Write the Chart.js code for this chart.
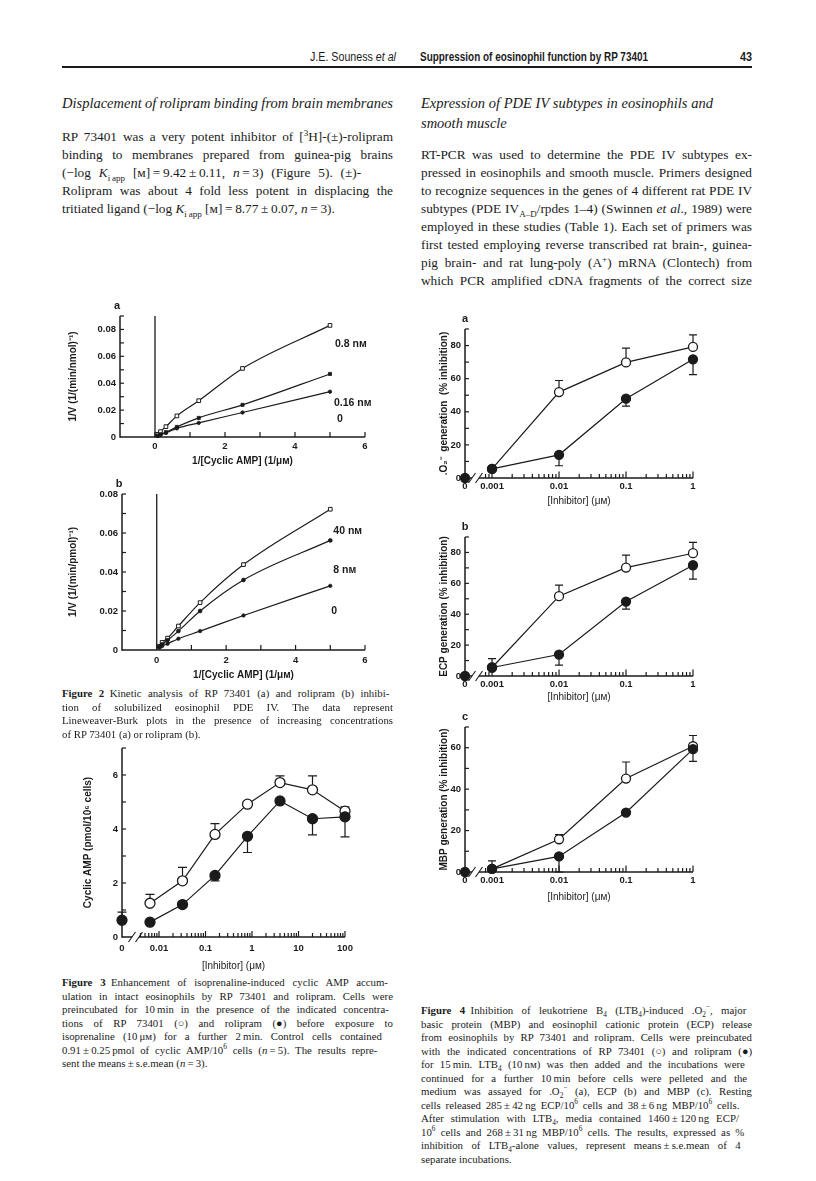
<!DOCTYPE html>
<html><head><meta charset="utf-8">
<script src="https://cdn.jsdelivr.net/npm/chart.js@4.4.1/dist/chart.umd.min.js"></script>
<style>
html,body{margin:0;padding:0;background:#fff}
body{width:816px;height:1181px;position:relative;overflow:hidden;color:#1b1b1b}
.ln{position:absolute;white-space:nowrap;font-family:'Liberation Serif','Times New Roman',serif;line-height:16px;height:16px}
.bd{font-size:13.3px}
.hd{font-size:14.5px;font-style:italic}
.cp{font-size:10.8px}
.hs{font-family:'Liberation Sans',Arial,sans-serif;font-size:12.5px}
sub,sup{font-size:68%;line-height:0}
#rule{position:absolute;left:62px;top:66px;width:690px;height:2px;background:#1b1b1b}
canvas{position:absolute}
</style></head><body>
<div id="rule"></div>
<script>
const INK = '#1b1b1b';

// ---------------- Figure 2 (Lineweaver-Burk) ----------------
const fig2InvCAMP = [0.078, 0.156, 0.3125, 0.625, 1.25, 2.5, 5];
const fig2aControl = [0.0008, 0.0015, 0.003, 0.0064, 0.0105, 0.0182, 0.0337];
const fig2aRP016 = [0.001, 0.002, 0.0036, 0.0075, 0.0142, 0.0239, 0.0469];
const fig2aRP08 = [0.002, 0.004, 0.0077, 0.0157, 0.027, 0.051, 0.083];
const fig2aLabels = ['0', '0.16 nᴍ', '0.8 nᴍ'];
const fig2bControl = [0.0013, 0.002, 0.0032, 0.0058, 0.0097, 0.0177, 0.0329];
const fig2bRoli8 = [0.0015, 0.0029, 0.005, 0.0097, 0.02, 0.0359, 0.0562];
const fig2bRoli40 = [0.0019, 0.0039, 0.0061, 0.0123, 0.0243, 0.0438, 0.0722];
const fig2bLabels = ['0', '8 nᴍ', '40 nᴍ'];
const fig2XTickValues = [0, 1, 2, 3, 4, 5, 6];
const fig2XTickLabels = ['0', '', '2', '', '4', '', '6'];
const fig2aYTickValues = [0, 0.01, 0.02, 0.03, 0.04, 0.05, 0.06, 0.07, 0.08, 0.09];
const fig2aYTickLabels = ['0', '', '0.02', '', '0.04', '', '0.06', '', '0.08', ''];
const fig2bYTickValues = [0, 0.01, 0.02, 0.03, 0.04, 0.05, 0.06, 0.07, 0.08];
const fig2bYTickLabels = ['0', '', '0.02', '', '0.04', '', '0.06', '', '0.08'];

// ---------------- Figure 3 (cyclic AMP) ----------------
const fig3Conc = [0.0064, 0.032, 0.16, 0.8, 4, 20, 100];
const fig3RP = [1.25, 2.08, 3.8, 4.92, 5.72, 5.45, 4.66];
const fig3RPErr = [0.33, 0.5, 0.4, 0, 0.25, 0.52, 0.16];
const fig3Roli = [0.55, 1.2, 2.28, 3.73, 5.04, 4.38, 4.45];
const fig3RoliErr = [0, 0.08, 0.2, 0.6, 0, 0.6, 0.74];
const fig3Control = [0.62];
const fig3ControlErr = [0.3];
const fig3Decades = [0.01, 0.1, 1, 10, 100];
const fig3DecadeLabels = ['0.01', '0.1', '1', '10', '100'];
const fig3YTickValues = [0, 1, 2, 3, 4, 5, 6, 7];
const fig3YTickLabels = ['0', '', '2', '', '4', '', '6', ''];

// ---------------- Figure 4 (% inhibition) ----------------
const fig4Conc = [0.001, 0.01, 0.1, 1];
const fig4aRP = [5.5, 51.9, 69.8, 79.2];
const fig4aRPErr = [0, 7, 8.7, 7.2];
const fig4aRoli = [5.5, 14, 47.9, 71.7];
const fig4aRoliErr = [0, 6.6, 4.5, 9.2];
const fig4bRP = [5.5, 51.7, 70.2, 79.5];
const fig4bRPErr = [5.8, 7.2, 8, 7];
const fig4bRoli = [5.5, 13.9, 48.2, 71.7];
const fig4bRoliErr = [0, 6.8, 4.9, 9];
const fig4cRP = [1.5, 15.8, 45.1, 60.7];
const fig4cRPErr = [3.9, 2.2, 8, 5.2];
const fig4cRoli = [1.5, 7.5, 28.7, 59.3];
const fig4cRoliErr = [0, 7.5, 0.8, 5.9];
const fig4Control = [0];
const fig4Decades = [0.001, 0.01, 0.1, 1];
const fig4DecadeLabels = ['0.001', '0.01', '0.1', '1'];
const fig4abYTickValues = [0, 10, 20, 30, 40, 50, 60, 70, 80, 90];
const fig4abYTickLabels = ['0', '', '20', '', '40', '', '60', '', '80', ''];
const fig4cYTickValues = [0, 10, 20, 30, 40, 50, 60, 70];
const fig4cYTickLabels = ['0', '', '20', '', '40', '', '60', ''];

// axis "0" positions on the broken log axes (value placed at the y axis)
const fig3ZeroPos = 0.0016;
const fig4ZeroPos = 0.000395;

// ---------------- helpers ----------------
function linTicks(values, labels) {
  return values.map((v, i) => ({v, label: labels[i], kind: labels[i] ? 'major' : 'minor'}));
}
function logTicks(zeroPos, firstMinor, decades, labels) {
  const out = [{v: zeroPos, label: '0', kind: 'zero'}];
  for (let m = firstMinor; m < 10; m++) out.push({v: m * decades[0] / 10, label: '', kind: 'minor'});
  decades.forEach((d, i) => {
    out.push({v: d, label: labels[i], kind: 'major'});
    if (i < decades.length - 1) for (let m = 2; m < 10; m++) out.push({v: m * d, label: '', kind: 'minor'});
  });
  return out;
}
function pts(xs, ys) { return xs.map((x, i) => ({x, y: ys[i]})); }

Chart.defaults.font.family = "'Liberation Sans', Arial, sans-serif";
Chart.defaults.color = INK;

const paperPlugin = {
  id: 'paper',
  beforeDatasetsDraw(chart, args, o) {
    const ctx = chart.ctx, a = chart.chartArea, xs = chart.scales.x, ys = chart.scales.y;
    ctx.save();
    ctx.strokeStyle = INK; ctx.fillStyle = INK;
    ctx.lineWidth = 1.5;
    ctx.beginPath(); ctx.moveTo(a.left, a.top); ctx.lineTo(a.left, a.bottom + 0.75); ctx.stroke();
    ctx.beginPath();
    if (o.brk) {
      ctx.moveTo(a.left, a.bottom); ctx.lineTo(a.left + o.brk[0], a.bottom);
      ctx.moveTo(a.left + o.brk[1], a.bottom); ctx.lineTo(a.right, a.bottom);
    } else { ctx.moveTo(a.left, a.bottom); ctx.lineTo(a.right, a.bottom); }
    ctx.stroke();
    if (o.brk) {
      ctx.lineWidth = 1.1;
      o.brk.forEach(d => { const p = a.left + d; ctx.beginPath(); ctx.moveTo(p - 3.5, a.bottom + 5); ctx.lineTo(p + 3.5, a.bottom - 5); ctx.stroke(); });
    }
    ctx.lineWidth = 1.2;
    o.xTicks.forEach(t => {
      if (t.kind === 'zero') return;
      const p = xs.getPixelForValue(t.v), L = t.kind === 'major' ? o.xMajor : o.xMinor;
      ctx.beginPath(); ctx.moveTo(p, a.bottom); ctx.lineTo(p, a.bottom - L); ctx.stroke();
    });
    o.yTicks.forEach(t => {
      if (t.v === 0) return;
      const p = ys.getPixelForValue(t.v);
      ctx.beginPath(); ctx.moveTo(a.left, p); ctx.lineTo(a.left + o.yLen, p); ctx.stroke();
    });
    if (o.vline) {
      const p = xs.getPixelForValue(0);
      ctx.lineWidth = 1.3; ctx.beginPath(); ctx.moveTo(p, a.bottom); ctx.lineTo(p, a.top); ctx.stroke();
    }
    (o.errors || []).forEach(e => {
      const ds = chart.data.datasets[e.ds];
      ctx.lineWidth = 1.2;
      ds.data.forEach((pt, i) => {
        const err = e.values[i]; if (!err) return;
        const x = xs.getPixelForValue(pt.x), y0 = ys.getPixelForValue(pt.y), y1 = ys.getPixelForValue(pt.y + e.dir * err);
        ctx.beginPath(); ctx.moveTo(x, y0); ctx.lineTo(x, y1); ctx.moveTo(x - o.cap, y1); ctx.lineTo(x + o.cap, y1); ctx.stroke();
      });
    });
    ctx.restore();
  },
  afterDatasetsDraw(chart, args, o) {
    const ctx = chart.ctx, a = chart.chartArea, xs = chart.scales.x, ys = chart.scales.y;
    ctx.save(); ctx.fillStyle = INK;
    if (o.letter) {
      ctx.font = "bold 11px 'Liberation Sans', Arial, sans-serif";
      ctx.textAlign = 'center'; ctx.textBaseline = 'middle';
      ctx.fillText(o.letter, a.left + (o.letterDx || 0), a.top - 10);
    }
    (o.seriesLabels || []).forEach(l => {
      const ds = chart.data.datasets[l.ds]; const last = ds.data[ds.data.length - 1];
      ctx.font = "bold 10.5px 'Liberation Sans', Arial, sans-serif";
      ctx.textAlign = 'left'; ctx.textBaseline = 'middle';
      ctx.fillText(l.text, xs.getPixelForValue(last.x) + l.dx, ys.getPixelForValue(last.y) + l.dy);
    });
    ctx.restore();
  }
};

function makePanel(box, o) {
  const LY = o.ly, BX = o.bx, T = 20, R = o.r || 26;
  const W = LY + box.r - box.l + R, H = T + box.b - box.t + BX;
  const cv = document.createElement('canvas');
  cv.width = W; cv.height = H;
  cv.style.left = (box.l - LY) + 'px'; cv.style.top = (box.t - T) + 'px';
  cv.style.width = W + 'px'; cv.style.height = H + 'px';
  document.body.appendChild(cv);
  const tickFont = {size: 9.5, weight: 'bold'};
  return new Chart(cv, {
    type: 'line',
    data: {datasets: o.datasets},
    options: {
      responsive: false, animation: false, devicePixelRatio: 1,
      layout: {padding: {left: 0, top: T, right: R, bottom: 0}, autoPadding: false},
      plugins: {legend: {display: false}, tooltip: {enabled: false},
        paper: {xTicks: o.xTicks, yTicks: o.yTicks, brk: o.brk, vline: o.vline, letter: o.letter, letterDx: o.letterDx,
          seriesLabels: o.seriesLabels, errors: o.errors, cap: o.cap || 4,
          xMajor: o.xMajor || 5, xMinor: o.xMinor || 3.5, yLen: o.yLen || 4}},
      scales: {
        x: {type: o.xType, min: o.xMin, max: o.xMax, bounds: 'data',
          grid: {display: false, drawTicks: false}, border: {display: false},
          afterBuildTicks: s => { s.ticks = o.xTicks.map(t => ({value: t.v})); },
          afterFit: s => { s.height = BX; },
          ticks: {autoSkip: false, maxRotation: 0, minRotation: 0, padding: o.xPad, font: tickFont,
            callback: (v, i) => o.xTicks[i] ? o.xTicks[i].label : ''},
          title: {display: true, text: o.xTitle, padding: 0, font: {size: 10, weight: o.xTitleWeight || 'normal'}}},
        y: {type: 'linear', min: o.yMin, max: o.yMax, bounds: 'data',
          grid: {display: false, drawTicks: false}, border: {display: false},
          afterBuildTicks: s => { s.ticks = o.yTicks.map(t => ({value: t.v})); },
          afterFit: s => { s.width = LY; },
          ticks: {autoSkip: false, padding: 4, font: tickFont,
            callback: (v, i) => o.yTicks[i] ? o.yTicks[i].label : ''},
          title: {display: true, text: o.yTitle, padding: 0, font: {size: 10, weight: 'bold'}}}
      }
    },
    plugins: [paperPlugin]
  });
}

function lineDs(data, style, extra) {
  return Object.assign({data, borderColor: INK, borderWidth: 1.2, fill: false, clip: false,
    pointBorderColor: INK, pointBorderWidth: 1.3,
    pointBackgroundColor: style === 'open' ? '#fff' : INK}, extra || {});
}

// ---- Figure 2a ----
const lbStyle = {cubicInterpolationMode: 'monotone'};
makePanel({l: 120, r: 365, t: 316, b: 437}, {
  ly: 53, bx: 30, r: 34, xPad: 3.3, xType: 'linear', xMin: -1, xMax: 6, yMin: 0, yMax: 0.09,
  xTicks: linTicks(fig2XTickValues, fig2XTickLabels).map(t => Object.assign(t, {kind: 'major'})),
  yTicks: linTicks(fig2aYTickValues, fig2aYTickLabels), vline: true, letter: 'a', letterDx: -3,
  xTitle: '1/[Cyclic AMP] (1/μᴍ)', xTitleWeight: 'bold', yTitle: '1/V (1/(min/nmol)⁻¹)',
  datasets: [
    lineDs(pts(fig2InvCAMP, fig2aControl), 'filled', Object.assign({pointRadius: 1.7, pointBorderWidth: 0.8}, lbStyle)),
    lineDs(pts(fig2InvCAMP, fig2aRP016), 'filled', Object.assign({pointRadius: 2.2, pointStyle: 'rect', pointBorderWidth: 0.8}, lbStyle)),
    lineDs(pts(fig2InvCAMP, fig2aRP08), 'open', Object.assign({pointRadius: 2.6, pointStyle: 'rect', pointBorderWidth: 1}, lbStyle))
  ],
  seriesLabels: [{ds: 0, text: fig2aLabels[0], dx: 7, dy: 27}, {ds: 1, text: fig2aLabels[1], dx: 4, dy: 29}, {ds: 2, text: fig2aLabels[2], dx: 5, dy: 19}]
});

// ---- Figure 2b ----
makePanel({l: 122, r: 365, t: 494, b: 650}, {
  ly: 55, bx: 31, r: 34, xPad: 4.3, xType: 'linear', xMin: -1, xMax: 6, yMin: 0, yMax: 0.08,
  xTicks: linTicks(fig2XTickValues, fig2XTickLabels).map(t => Object.assign(t, {kind: 'major'})),
  yTicks: linTicks(fig2bYTickValues, fig2bYTickLabels), vline: true, letter: 'b', letterDx: -3,
  xTitle: '1/[Cyclic AMP] (1/μᴍ)', xTitleWeight: 'bold', yTitle: '1/V (1/(min/pmol)⁻¹)',
  datasets: [
    lineDs(pts(fig2InvCAMP, fig2bControl), 'filled', Object.assign({pointRadius: 1.7, pointBorderWidth: 0.8}, lbStyle)),
    lineDs(pts(fig2InvCAMP, fig2bRoli8), 'filled', Object.assign({pointRadius: 1.9, pointBorderWidth: 0.8}, lbStyle)),
    lineDs(pts(fig2InvCAMP, fig2bRoli40), 'open', Object.assign({pointRadius: 2.6, pointStyle: 'rect', pointBorderWidth: 1}, lbStyle))
  ],
  seriesLabels: [{ds: 0, text: fig2bLabels[0], dx: 1, dy: 25}, {ds: 1, text: fig2bLabels[1], dx: 3, dy: 30}, {ds: 2, text: fig2bLabels[2], dx: 3, dy: 22}]
});

// ---- Figure 3 ----
makePanel({l: 122, r: 345, t: 748, b: 937}, {
  ly: 40, bx: 35, r: 26, xPad: 5.3, xType: 'logarithmic', xMin: fig3ZeroPos, xMax: 100, yMin: 0, yMax: 7,
  xTicks: logTicks(fig3ZeroPos, 4, fig3Decades, fig3DecadeLabels), xMajor: 6, xMinor: 4,
  yTicks: linTicks(fig3YTickValues, fig3YTickLabels), brk: [10, 17], cap: 4.5,
  xTitle: '[Inhibitor] (μᴍ)', yTitle: 'Cyclic AMP (pmol/10⁶ cells)',
  datasets: [
    lineDs(pts(fig3Conc, fig3Roli), 'filled', {pointRadius: 5}),
    lineDs(pts(fig3Conc, fig3RP), 'open', {pointRadius: 5}),
    lineDs([{x: fig3ZeroPos, y: fig3Control[0]}], 'filled', {pointRadius: 5, showLine: false})
  ],
  errors: [{ds: 0, values: fig3RoliErr, dir: -1}, {ds: 1, values: fig3RPErr, dir: 1}, {ds: 2, values: fig3ControlErr, dir: 1}]
});

// ---- Figure 4 a, b, c ----
function fig4Panel(box, letter, yTitle, rp, rpErr, roli, roliErr, yMax, yVals, yLabels) {
  makePanel(box, {
    ly: 27, bx: box.bx, r: 26, xPad: 3, xType: 'logarithmic', xMin: fig4ZeroPos, xMax: 1, yMin: 0, yMax,
    xTicks: logTicks(fig4ZeroPos, 8, fig4Decades, fig4DecadeLabels), xMajor: 6.5, xMinor: 4,
    yTicks: linTicks(yVals, yLabels), brk: [7, 14], letter, cap: 4,
    xTitle: '[Inhibitor] (μᴍ)', yTitle,
    datasets: [
      lineDs(pts(fig4Conc, roli), 'filled', {pointRadius: 4.5}),
      lineDs(pts(fig4Conc, rp), 'open', {pointRadius: 4.5}),
      lineDs([{x: fig4ZeroPos, y: fig4Control[0]}], 'filled', {pointRadius: 4.5, showLine: false})
    ],
    errors: [{ds: 0, values: roliErr, dir: -1}, {ds: 1, values: rpErr, dir: 1}]
  });
}
fig4Panel({l: 465, r: 693, t: 329, b: 478, bx: 29}, 'a', '.O₂⁻  generation  (% inhibition)', fig4aRP, fig4aRPErr, fig4aRoli, fig4aRoliErr, 90, fig4abYTickValues, fig4abYTickLabels);
fig4Panel({l: 465, r: 693, t: 537, b: 676, bx: 27}, 'b', 'ECP generation (% inhibition)', fig4bRP, fig4bRPErr, fig4bRoli, fig4bRoliErr, 90, fig4abYTickValues, fig4abYTickLabels);
fig4Panel({l: 465, r: 693, t: 727, b: 872, bx: 31}, 'c', 'MBP generation (% inhibition)', fig4cRP, fig4cRPErr, fig4cRoli, fig4cRoliErr, 70, fig4cYTickValues, fig4cYTickLabels);

// ---------------- page text ----------------
const headerLines = [
  {x: 310, y: 57, w: 86, cls: 'hs', fit: 'scale', html: 'J.E. Souness <i>et al</i>'},
  {x: 420, y: 57, w: 228, cls: 'hs', fit: 'scale', html: '<b>Suppression of eosinophil function by RP 73401</b>'},
  {x: 740, y: 57, w: 12, cls: 'hs', fit: 'scale', html: '<b>43</b>'},
  {x: 62, y: 103, w: 331, cls: 'hd', fit: 'justify', html: 'Displacement of rolipram binding from brain membranes'},
  {x: 421, y: 103, w: 292, cls: 'hd', fit: 'justify', html: 'Expression of PDE IV subtypes in eosinophils and'},
  {x: 421, y: 123, cls: 'hd', html: 'smooth muscle'}
];
const leftBody = [
  'RP 73401 was a very potent inhibitor of [<sup>3</sup>H]-(±)-rolipram',
  'binding to membranes prepared from guinea-pig brains',
  '(−log <i>K</i><sub>i\u2009app</sub> [ᴍ]\u2009=\u20099.42\u2009±\u20090.11, <i>n</i>\u2009=\u20093) (Figure 5). (±)-',
  'Rolipram was about 4 fold less potent in displacing the',
  'tritiated ligand (−log <i>K</i><sub>i\u2009app</sub> [ᴍ]\u2009=\u20098.77\u2009±\u20090.07, <i>n</i>\u2009=\u20093).'
];
const rightBody = [
  'RT-PCR was used to determine the PDE IV subtypes ex-',
  'pressed in eosinophils and smooth muscle. Primers designed',
  'to recognize sequences in the genes of 4 different rat PDE IV',
  'subtypes (PDE IV<sub>A–D</sub>/rpdes 1–4) (Swinnen <i>et al</i>., 1989) were',
  'employed in these studies (Table 1). Each set of primers was',
  'first tested employing reverse transcribed rat brain-, guinea-',
  'pig brain- and rat lung-poly (A<sup>+</sup>) mRNA (Clontech) from',
  'which PCR amplified cDNA fragments of the correct size'
];
const fig2Caption = [
  '<b>Figure 2</b>&ensp;Kinetic analysis of RP 73401 (a) and rolipram (b) inhibi-',
  'tion of solubilized eosinophil PDE IV. The data represent',
  'Lineweaver-Burk plots in the presence of increasing concentrations',
  'of RP 73401 (a) or rolipram (b).'
];
const fig3Caption = [
  '<b>Figure 3</b>&ensp;Enhancement of isoprenaline-induced cyclic AMP accum-',
  'ulation in intact eosinophils by RP 73401 and rolipram. Cells were',
  'preincubated for 10\u2009min in the presence of the indicated concentra-',
  'tions of RP 73401 (○) and rolipram (●) before exposure to',
  'isoprenaline (10\u2009μᴍ) for a further 2\u2009min. Control cells contained',
  '0.91\u2009±\u20090.25\u2009pmol of cyclic AMP/10<sup>6</sup> cells (<i>n</i>\u2009=\u20095). The results repre-',
  'sent the means\u2009±\u2009s.e.mean (<i>n</i>\u2009=\u20093).'
];
const fig4Caption = [
  '<b>Figure 4</b>&ensp;Inhibition of leukotriene B<sub>4</sub> (LTB<sub>4</sub>)-induced .O<sub>2</sub><sup>−</sup>, major',
  'basic protein (MBP) and eosinophil cationic protein (ECP) release',
  'from eosinophils by RP 73401 and rolipram. Cells were preincubated',
  'with the indicated concentrations of RP 73401 (○) and rolipram (●)',
  'for 15\u2009min. LTB<sub>4</sub> (10\u2009nᴍ) was then added and the incubations were',
  'continued for a further 10\u2009min before cells were pelleted and the',
  'medium was assayed for .O<sub>2</sub><sup>−</sup> (a), ECP (b) and MBP (c). Resting',
  'cells released 285\u2009±\u200942\u2009ng ECP/10<sup>6</sup> cells and 38\u2009±\u20096\u2009ng MBP/10<sup>6</sup> cells.',
  'After stimulation with LTB<sub>4</sub>, media contained 1460\u2009±\u2009120\u2009ng ECP/',
  '10<sup>6</sup> cells and 268\u2009±\u200931\u2009ng MBP/10<sup>6</sup> cells. The results, expressed as %',
  'inhibition of LTB<sub>4</sub>-alone values, represent means\u2009±\u2009s.e.mean of 4',
  'separate incubations.'
];

function block(lines, x, y0, dy, cls, lastRagged) {
  return lines.map((html, i) => ({x, y: y0 + i * dy, w: 331, cls,
    fit: (lastRagged && i === lines.length - 1) ? null : 'justify', html}));
}
const allLines = headerLines
  .concat(block(leftBody, 62, 137, 18, 'bd', true))
  .concat(block(rightBody, 421, 155, 18, 'bd', false))
  .concat(block(fig2Caption, 62, 693, 13.5, 'cp', true))
  .concat(block(fig3Caption, 62, 982, 13.5, 'cp', true))
  .concat(block(fig4Caption, 421, 1010, 13.5, 'cp', true));

allLines.forEach(L => {
  const el = document.createElement('div');
  el.className = 'ln ' + L.cls;
  el.innerHTML = L.html;
  el.style.left = L.x + 'px';
  el.style.top = (L.y - 8) + 'px';
  document.body.appendChild(el);
  if (L.fit && L.w) {
    const nat = el.getBoundingClientRect().width;
    if (L.fit === 'justify') {
      const n = (el.textContent.replace(/\s+/g, ' ').trim().match(/[ \u00a0]/g) || []).length;
      if (n) el.style.wordSpacing = ((L.w - nat) / n) + 'px';
    } else {
      el.style.transformOrigin = '0 50%';
      el.style.transform = 'scaleX(' + (L.w / nat) + ')';
    }
  }
});
</script>
</body></html>
